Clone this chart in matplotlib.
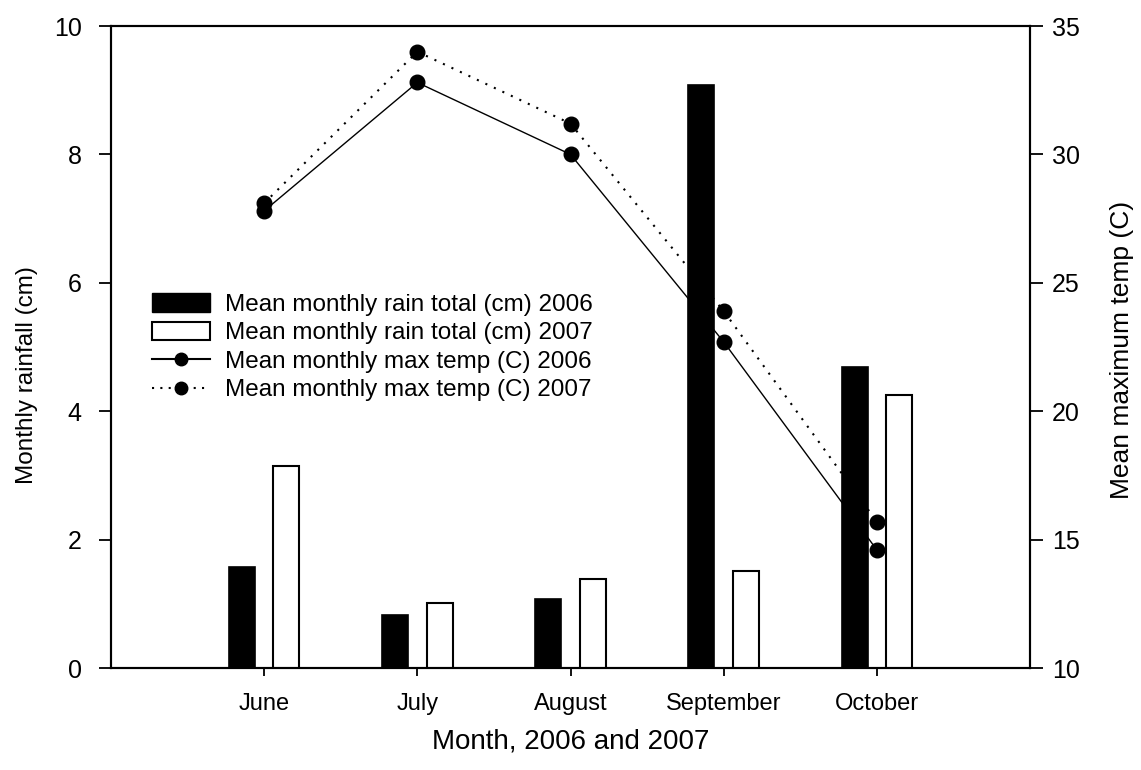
import matplotlib
matplotlib.use("Agg")
import matplotlib.pyplot as plt
from matplotlib.lines import Line2D
from matplotlib.patches import Patch

months = ["June", "July", "August", "September", "October"]
rain_2006 = [1.58, 0.83, 1.08, 9.08, 4.69]
rain_2007 = [3.15, 1.01, 1.39, 1.51, 4.25]
temp_2006 = [27.8, 32.8, 30.0, 22.7, 14.6]
temp_2007 = [28.1, 34.0, 31.2, 23.9, 15.7]

FONT = ["Liberation Sans", "DejaVu Sans"]
plt.rcParams["font.family"] = FONT

W, H = 1141, 770
fig = plt.figure(figsize=(W/100, H/100), dpi=100)
ax = fig.add_axes([111/W, 1-668/H, (1030-111)/W, (668-26)/H])
ax2 = ax.twinx()

x = list(range(1, len(months) + 1))
w = 0.17
off = 0.145

ax.set_zorder(2)
ax.patch.set_visible(False)
ax2.set_zorder(1)

ax.bar([v - off for v in x], rain_2006, width=w, color="black", edgecolor="black", linewidth=1.2)
ax.bar([v + off for v in x], rain_2007, width=w, color="white", edgecolor="black", linewidth=1.5)

ax2.plot(x, temp_2006, color="black", linestyle="-", linewidth=1.0, marker="o", markersize=10.5)
ax2.plot(x, temp_2007, color="black", linestyle=(0, (1, 3.5)), linewidth=1.5, marker="o", markersize=10.5)

ax.set_xlim(0, 6)
ax.set_ylim(0, 10)
ax2.set_ylim(10, 35)
ax.set_xticks(x)
ax.set_xticklabels(months, fontsize=17)
ax.set_yticks([0, 2, 4, 6, 8, 10])
ax2.set_yticks([10, 15, 20, 25, 30, 35])
for lab in ax.get_yticklabels() + ax2.get_yticklabels():
    lab.set_fontsize(18)

ax.tick_params(axis="y", direction="out", length=9, width=1.3, pad=12)
ax2.tick_params(axis="y", direction="out", length=9, width=1.3, pad=7)
ax.tick_params(axis="x", direction="out", length=6, width=1.3, pad=12)

for a in (ax, ax2):
    for s in a.spines.values():
        s.set_linewidth(1.5)

ax.set_xlabel("Month, 2006 and 2007", fontsize=20)
ax.xaxis.set_label_coords(0.5, -(729-668)/(668-26))
ax.set_ylabel("Monthly rainfall (cm)", fontsize=17.5)
ax.yaxis.set_label_coords(-(111-38)/(1030-111), (668-375)/(668-26))
ax2.set_ylabel("Mean maximum temp (C)", fontsize=19)
ax2.yaxis.set_label_coords(1+(1110-1030)/(1030-111), (668-350)/(668-26))

handles = [
    Patch(facecolor="black", edgecolor="black"),
    Patch(facecolor="white", edgecolor="black", linewidth=1.5),
    Line2D([0], [0], color="black", linestyle="-", marker="o", markersize=9),
    Line2D([0], [0], color="black", linestyle=(0, (1, 3)), linewidth=1.5, marker="o", markersize=9),
]
labels = [
    "Mean monthly rain total (cm) 2006",
    "Mean monthly rain total (cm) 2007",
    "Mean monthly max temp (C) 2006",
    "Mean monthly max temp (C) 2007",
]
fig.legend(handles, labels, loc="upper left", bbox_to_anchor=(152/W, 1-293/H),
           frameon=False, prop={"size": 17.5},
           handlelength=2.4, handleheight=0.8, handletextpad=0.6, labelspacing=0.24,
           borderaxespad=0, borderpad=0)

fig.savefig("out.png", dpi=100)
